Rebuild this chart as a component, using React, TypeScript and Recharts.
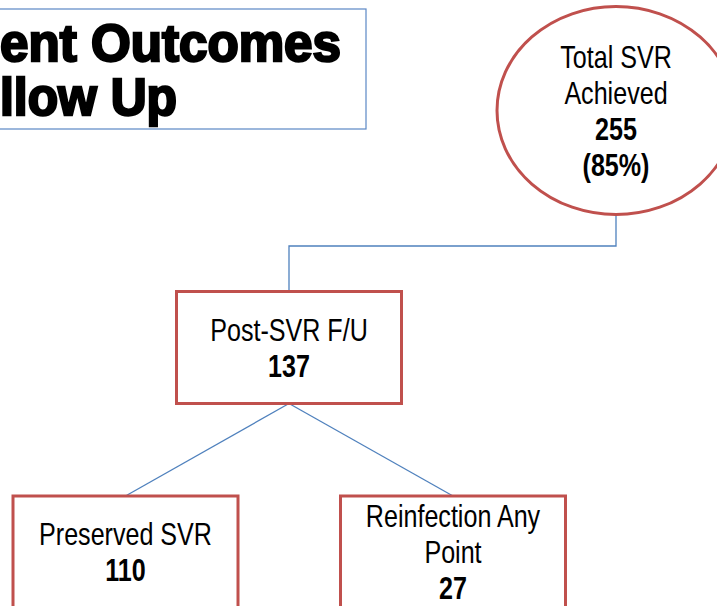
import React from 'react';
import { ScatterChart, Scatter, XAxis, YAxis, Customized } from 'recharts';

const W = 717;
const H = 606;

// flow nodes
const nodeShapes = ['ellipse', 'rect', 'rect', 'rect'];
const nodeLines = [['Total SVR', 'Achieved'], ['Post-SVR F/U'], ['Preserved SVR'], ['Reinfection Any', 'Point']];
const nodeCounts = [255, 137, 110, 27];
const nodePercents = ['85%', null, null, null];
const nodeX = [616, 289, 125.5, 453];
const nodeY = [110.5, 347.5, 552, 552];

// connectors: [from, to, kind]
const edgeFrom = [0, 1, 1];
const edgeTo = [1, 2, 3];
const edgeKinds = ['elbow', 'straight', 'straight'];

const titleLines = ['ent Outcomes', 'llow Up'];

const RED = '#C0504D';
const BLUE = '#4F81BD';
const BOX_W = 225;
const BOX_H = 112;
const ELL_RX = 119;
const ELL_RY = 104;
const ELBOW_Y = 246;
const LH = 36;
const CAP_HALF = 11.5;
// no narrow face installed, so squeeze the regular one
const NARROW = 0.81;
const FONT = "'Liberation Sans', Arial, sans-serif";

const nodes = nodeX.map((x, i) => ({
  x,
  y: nodeY[i],
  shape: nodeShapes[i],
  lines: nodeLines[i],
  count: nodeCounts[i],
  pct: nodePercents[i],
}));

const bottomOf = (i: number) => nodeY[i] + (nodeShapes[i] === 'ellipse' ? ELL_RY : BOX_H / 2);
const topOf = (i: number) => nodeY[i] - (nodeShapes[i] === 'ellipse' ? ELL_RY : BOX_H / 2);

const edgePaths = edgeFrom.map((f, k) => {
  const t = edgeTo[k];
  if (edgeKinds[k] === 'elbow') {
    return [
      { x: nodeX[f], y: bottomOf(f) },
      { x: nodeX[f], y: ELBOW_Y },
      { x: nodeX[t], y: ELBOW_Y },
      { x: nodeX[t], y: topOf(t) },
    ];
  }
  return [
    { x: nodeX[f], y: bottomOf(f) },
    { x: nodeX[t], y: topOf(t) },
  ];
});

function NodeShape(props: any) {
  const { cx, cy, payload } = props;
  const rows: { t: string; b: boolean }[] = [
    ...payload.lines.map((t: string) => ({ t, b: false })),
    { t: String(payload.count), b: true },
  ];
  if (payload.pct) rows.push({ t: `(${payload.pct})`, b: true });
  const n = rows.length;
  return (
    <g>
      {payload.shape === 'ellipse' ? (
        <ellipse cx={cx} cy={cy} rx={ELL_RX} ry={ELL_RY} fill="#fff" stroke={RED} strokeWidth={3} />
      ) : (
        <rect x={cx - BOX_W / 2} y={cy - BOX_H / 2} width={BOX_W} height={BOX_H} fill="#fff" stroke={RED} strokeWidth={3} />
      )}
      <g transform={`translate(${cx},0) scale(${NARROW},1)`}>
        {rows.map((r, i) => (
          <text
            key={i}
            x={0}
            y={cy + (i - (n - 1) / 2) * LH + CAP_HALF}
            textAnchor="middle"
            fontFamily={FONT}
            fontSize={31}
            fontWeight={r.b ? 'bold' : 'normal'}
            fill="#000"
          >
            {r.t}
          </text>
        ))}
      </g>
    </g>
  );
}

const NoDot = () => <g />;

function Title() {
  return (
    <g>
      <rect x={-10} y={9} width={376} height={120} fill="#fff" stroke="#5B87C5" strokeWidth={1.2} />
      {titleLines.map((t, i) => (
        <text
          key={t}
          x={0}
          y={i === 0 ? 61 : 115}
          fontFamily="'Liberation Sans', Arial, sans-serif"
          fontSize={51}
          fontWeight="bold"
          fill="#000"
          stroke="#000"
          strokeWidth={2.4}
          textLength={i === 0 ? 341 : 177}
          lengthAdjust="spacingAndGlyphs"
        >
          {t}
        </text>
      ))}
    </g>
  );
}

export default function App() {
  return (
    <div style={{ position: 'absolute', left: 0, top: 0, width: W, height: H, background: '#fff', overflow: 'hidden' }}>
      <ScatterChart width={W} height={H} margin={{ top: 0, right: 0, bottom: 0, left: 0 }}>
        <XAxis type="number" dataKey="x" domain={[0, W]} hide allowDataOverflow />
        <YAxis type="number" dataKey="y" domain={[0, H]} reversed hide allowDataOverflow />
        <Customized component={<Title />} />
        {edgePaths.map((pts, k) => (
          <Scatter
            key={k}
            data={pts}
            line={{ stroke: BLUE, strokeWidth: 1.3 }}
            lineType="joint"
            shape={NoDot}
            isAnimationActive={false}
          />
        ))}
        <Scatter data={nodes} shape={NodeShape} isAnimationActive={false} />
      </ScatterChart>
    </div>
  );
}
